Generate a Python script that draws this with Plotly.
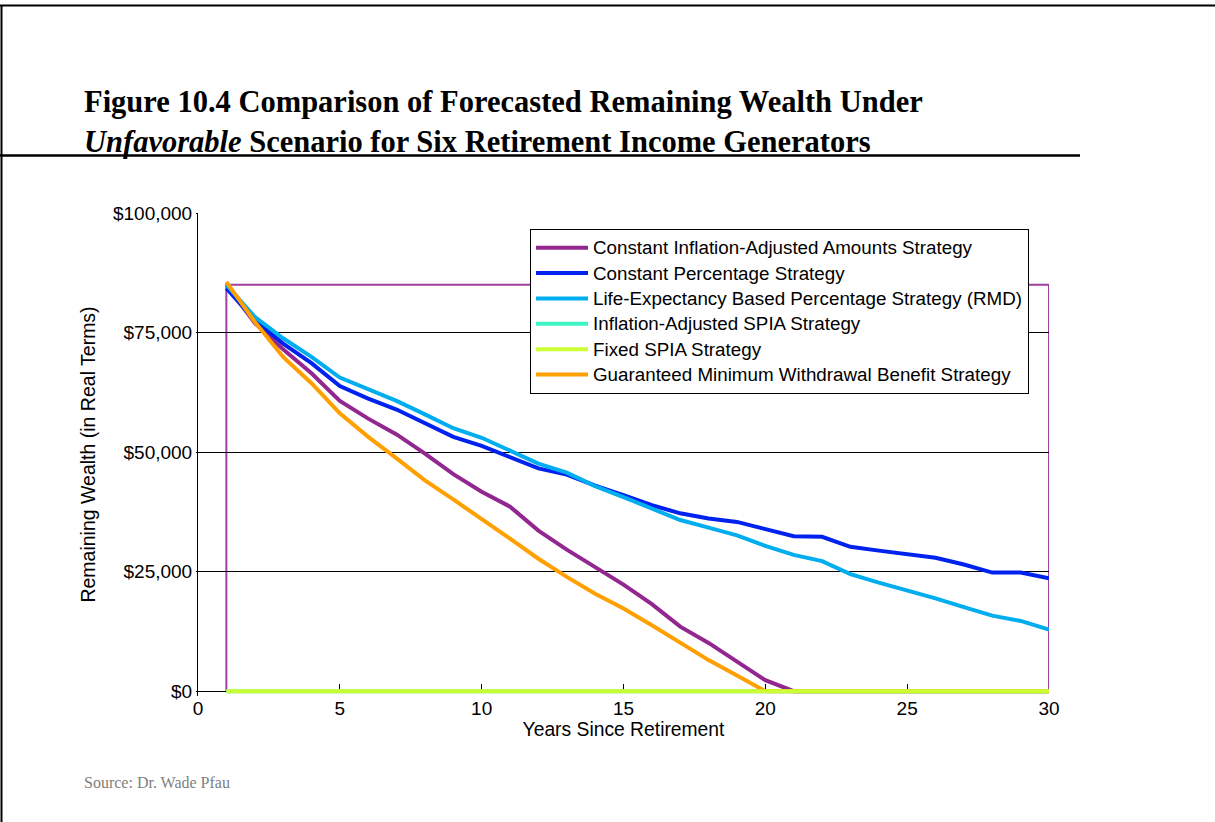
import plotly.graph_objects as go

years = list(range(1, 31))

const_infl_adj = [85000, 77000, 71500, 66500, 60700, 57000, 53700, 49700, 45400, 41700,
                  38600, 33600, 29600, 25900, 22300, 18200, 13500, 10100, 6100, 2300,
                  0, 0, 0, 0, 0, 0, 0, 0, 0, 0]
const_pct = [84300, 77600, 72700, 68600, 63800, 61200, 58900, 56100, 53200, 51300,
             48900, 46600, 45300, 43000, 41000, 38900, 37200, 36100, 35400, 34000,
             32400, 32300, 30200, 29400, 28700, 27900, 26500, 24800, 24800, 23600]
rmd_pct = [85000, 78300, 73800, 69900, 65600, 63100, 60700, 57900, 55000, 53000,
           50400, 47600, 45700, 42900, 40600, 38200, 35800, 34200, 32600, 30400,
           28500, 27200, 24500, 22700, 21100, 19400, 17600, 15800, 14700, 12900]
infl_adj_spia = [0] * 30
fixed_spia = [0] * 30
gmwb = [85600, 77260, 69900, 64400, 58100, 53200, 48700, 44100, 40100, 36100,
        31900, 27700, 23900, 20400, 17300, 13800, 10100, 6500, 3300, 0,
        0, 0, 0, 0, 0, 0, 0, 0, 0, 0]

names = ["Constant Inflation-Adjusted Amounts Strategy",
         "Constant Percentage Strategy",
         "Life-Expectancy Based Percentage Strategy (RMD)",
         "Inflation-Adjusted SPIA Strategy",
         "Fixed SPIA Strategy",
         "Guaranteed Minimum Withdrawal Benefit Strategy"]
colors = ["#92278F", "#0022EE", "#00AEEF", "#3DF5C4", "#CCFF33", "#FFA000"]
series = [const_infl_adj, const_pct, rmd_pct, infl_adj_spia, fixed_spia, gmwb]

x_ticks = [0, 5, 10, 15, 20, 25, 30]
y_ticks = [0, 25000, 50000, 75000, 100000]
y_tick_text = ["$0", "$25,000", "$50,000", "$75,000", "$100,000"]
y_min, y_max = -1000, 100000

W, H = 1215, 822
L, R, T, Z = 198, 1049, 213, 691          # Z: pixel row of y=0
B = Z + (Z - T) * (0 - y_min) / (y_max - 0)  # bottom of the plot area

def px(xp):
    return (xp - L) / (R - L)

def py(yp):
    return (B - yp) / (B - T)

fig = go.Figure()
draw_order = [0, 1, 2, 3, 5, 4]
for i in draw_order:
    fig.add_trace(go.Scatter(
        x=years, y=series[i], mode="lines",
        name='<span style="font-size:18.8px">' + names[i] + '</span>',
        line=dict(color=colors[i], width=4),
        legendrank=i + 1,
    ))

# purple frame around the series area
fig.add_shape(type="rect", xref="x", yref="y", x0=1, x1=30, y0=0, y1=85000,
              line=dict(color="#A040A0", width=2), layer="below")

# page border lines
fig.add_shape(type="line", xref="paper", yref="paper", x0=px(1.5), x1=px(1.5),
              y0=py(5), y1=py(822), line=dict(color="black", width=2))
fig.add_shape(type="line", xref="paper", yref="paper", x0=px(0), x1=px(1215),
              y0=py(5.5), y1=py(5.5), line=dict(color="black", width=2))
# title underline
fig.add_shape(type="line", xref="paper", yref="paper", x0=px(0), x1=px(1080),
              y0=py(155.5), y1=py(155.5), line=dict(color="black", width=2.5))

fig.add_annotation(xref="paper", yref="paper", x=px(82), y=py(83),
                   xanchor="left", yanchor="top", align="left", showarrow=False,
                   text="<b>Figure 10.4 Comparison of Forecasted Remaining Wealth Under<br>"
                        "<i>Unfavorable</i> Scenario for Six Retirement Income Generators</b>",
                   font=dict(family="Liberation Serif", size=30.5, color="black"))
fig.add_annotation(xref="paper", yref="paper", x=px(82), y=py(782),
                   xanchor="left", yanchor="middle", showarrow=False,
                   text="Source: Dr. Wade Pfau",
                   font=dict(family="Liberation Serif", size=16, color="#808080"))

fig.update_layout(
    width=W, height=H,
    margin=dict(l=L, r=W - R, t=T, b=H - B),
    paper_bgcolor="white", plot_bgcolor="white",
    font=dict(family="Liberation Sans", size=19, color="black"),
    legend=dict(x=px(530), y=py(229), xanchor="left", yanchor="top",
                bgcolor="white", bordercolor="black", borderwidth=1,
                font=dict(size=17.2), tracegroupgap=0, itemwidth=52),
    xaxis=dict(range=[0, 30], tickvals=x_ticks, ticks="inside", ticklen=7,
               tickcolor="black", showline=True, linecolor="black", linewidth=1,
               showgrid=False, zeroline=False, anchor="free",
               position=(B - Z) / (B - T), layer="below traces",
               title=dict(text="Years Since Retirement", standoff=3,
                          font=dict(size=19.3))),
    yaxis=dict(range=[y_min, y_max], tickvals=y_ticks, ticktext=y_tick_text,
               ticks="outside", ticklen=1, tickcolor="black",
               showline=True, linecolor="black", linewidth=1,
               showgrid=True, gridcolor="black", gridwidth=1, zeroline=False,
               title=dict(text="Remaining Wealth (in Real Terms)", standoff=12,
                          font=dict(size=19.5))),
    showlegend=True,
)

fig.write_html("out.html", config={"displayModeBar": False},
               post_script="document.body.style.margin='0';")
